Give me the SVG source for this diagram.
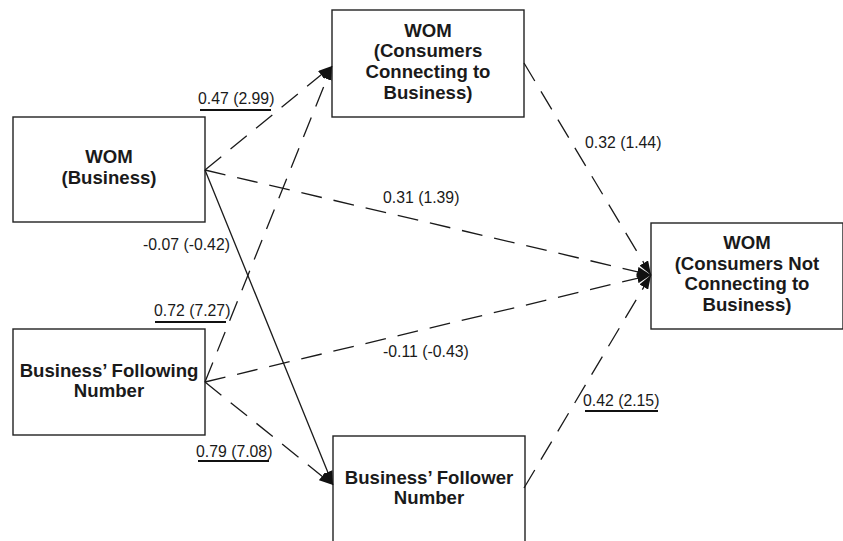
<svg xmlns="http://www.w3.org/2000/svg" width="843" height="541" viewBox="0 0 843 541">
<style>
.box{fill:#fff;stroke:#222;stroke-width:1.4}
.nt{font-family:"Liberation Sans",Arial,sans-serif;font-size:18.6px;font-weight:bold;fill:#1a1a1a;text-anchor:middle}
.lb{font-family:"Liberation Sans",Arial,sans-serif;font-size:15.8px;fill:#1a1a1a}
.ul{stroke:#111;stroke-width:2}
.c{stroke:#1a1a1a;stroke-width:1.3;fill:none;marker-end:url(#ah)}
.d{stroke-dasharray:21 12}
</style>
<defs>
<marker id="ah" viewBox="0 0 14 10" refX="14" refY="5" markerWidth="14" markerHeight="10" markerUnits="userSpaceOnUse" orient="auto">
<path d="M0,0 L14,5 L0,10 z" fill="#111"/>
</marker>
</defs>
<rect width="843" height="541" fill="#fff"/>
<g id="n1"><rect class="box" x="13" y="117" width="192" height="105"/><text class="nt" x="109" y="163">WOM</text><text class="nt" x="109" y="184">(Business)</text></g>
<g id="n2"><rect class="box" x="13" y="329" width="192" height="106"/><text class="nt" x="109" y="377">Business’ Following</text><text class="nt" x="109" y="397">Number</text></g>
<g id="n3"><rect class="box" x="332" y="10" width="192" height="107"/><text class="nt" x="428" y="37">WOM</text><text class="nt" x="428" y="57">(Consumers</text><text class="nt" x="428" y="78">Connecting to</text><text class="nt" x="428" y="99">Business)</text></g>
<g id="n4"><rect class="box" x="651" y="223" width="192" height="106"/><text class="nt" x="747" y="249">WOM</text><text class="nt" x="747" y="270">(Consumers Not</text><text class="nt" x="747" y="290">Connecting to</text><text class="nt" x="747" y="311">Business)</text></g>
<g id="n5"><rect class="box" x="333" y="436" width="192" height="106"/><text class="nt" x="429" y="484">Business’ Follower</text><text class="nt" x="429" y="504">Number</text></g>
<g id="connectors">
<line class="c d" x1="205" y1="170" x2="332" y2="66"/>
<line class="c d" x1="205" y1="382" x2="332" y2="66"/>
<line class="c d" x1="205" y1="170" x2="651" y2="275"/>
<line class="c" x1="205" y1="170" x2="333" y2="485"/>
<line class="c d" x1="205" y1="382" x2="651" y2="275"/>
<line class="c d" x1="205" y1="382" x2="333" y2="485"/>
<line class="c d" x1="524" y1="63" x2="651" y2="275"/>
<line class="c d" x1="524" y1="488" x2="651" y2="275"/>
</g>
<g id="labels">
<text class="lb" x="198" y="104">0.47 (2.99)</text><line class="ul" x1="200" y1="110" x2="271" y2="110"/>
<text class="lb" x="383" y="203">0.31 (1.39)</text>
<text class="lb" x="585" y="148">0.32 (1.44)</text>
<text class="lb" x="143" y="250">-0.07 (-0.42)</text>
<text class="lb" x="154" y="316">0.72 (7.27)</text><line class="ul" x1="155" y1="322" x2="226" y2="322"/>
<text class="lb" x="383" y="357">-0.11 (-0.43)</text>
<text class="lb" x="583" y="406">0.42 (2.15)</text><line class="ul" x1="585" y1="411" x2="658" y2="411"/>
<text class="lb" x="196" y="457">0.79 (7.08)</text><line class="ul" x1="198" y1="461" x2="269" y2="461"/>
</g>
</svg>
